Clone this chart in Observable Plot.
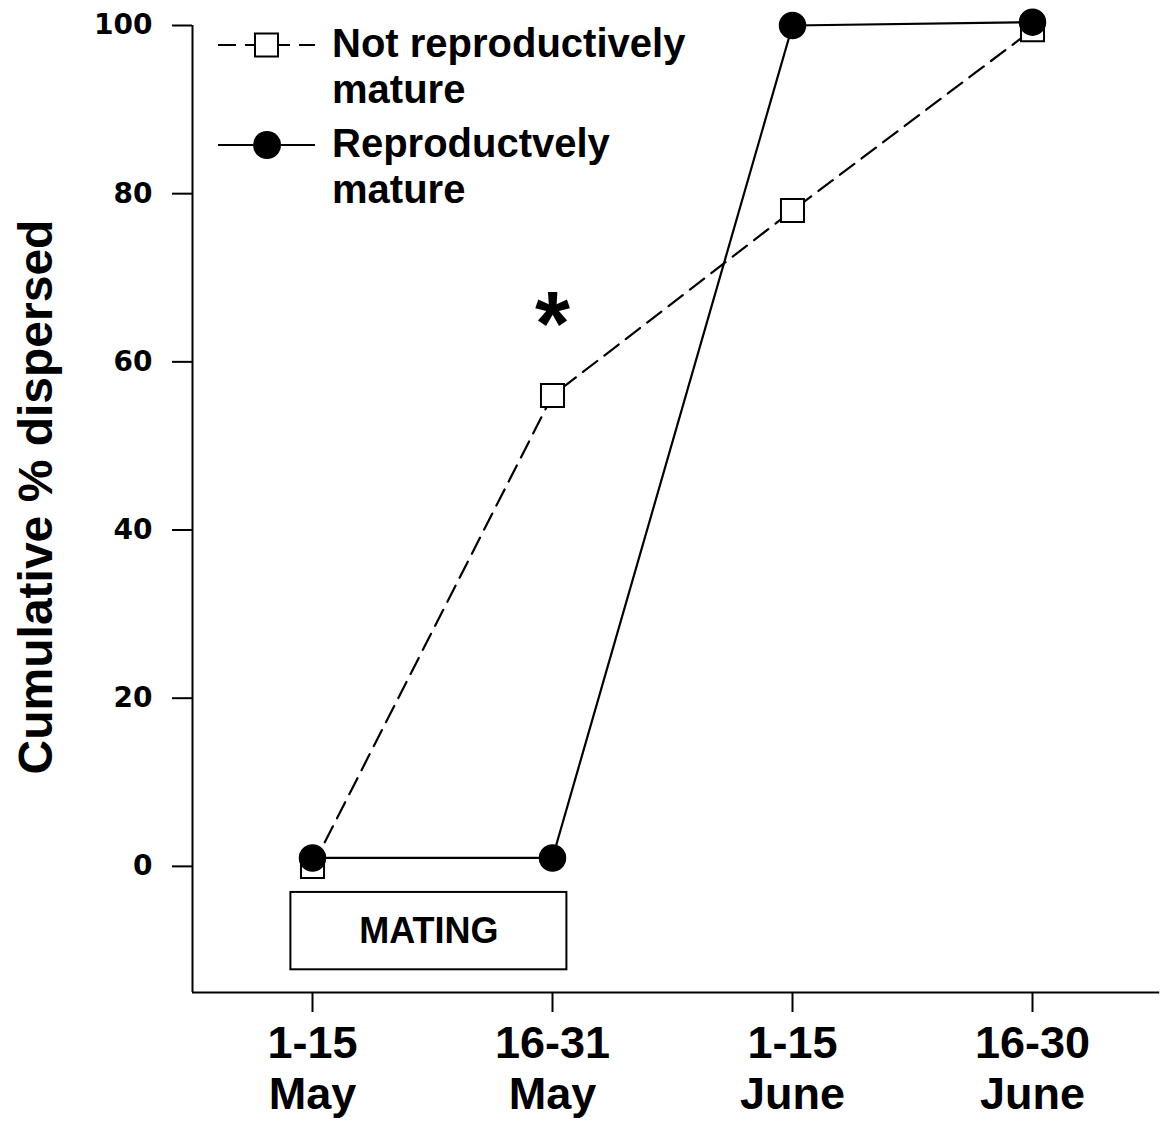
<!DOCTYPE html>
<html><head><meta charset="utf-8">
<script src="https://cdn.jsdelivr.net/npm/d3@7"></script>
<script src="https://cdn.jsdelivr.net/npm/@observablehq/plot@0.6"></script>
<style>body{margin:0;background:#fff}</style>
</head><body><div id="chart"></div>
<script>
// Data
const periods = ["1-15\nMay", "16-31\nMay", "1-15\nJune", "16-30\nJune"];
const notMature = [0, 56, 78, 99.5];
const mature = [1, 1, 100, 100.4];
const seriesNames = ["Not reproductively\nmature", "Reproductvely\nmature"];
const yTicks = [0, 20, 40, 60, 80, 100];
const yTitle = "Cumulative % dispersed";
const matingPeriod = [{x1: -0.09, x2: 1.06, y1: -3.1, y2: -12.3, label: "MATING"}];
const significance = [{i: 1, v: 66.4, label: "*"}];

const nmRows = notMature.map((v, i) => ({i, v}));
const mRows = mature.map((v, i) => ({i, v}));

const plot = Plot.plot({
  width: 1163, height: 1126,
  marginLeft: 192, marginRight: 11, marginTop: 25, marginBottom: 134,
  style: {fontFamily: "'Liberation Sans', Arial, sans-serif", background: "#fff", color: "#000"},
  x: {domain: [-0.5, 3.5], axis: null},
  y: {domain: [-15, 100], axis: null},
  marks: [
    Plot.axisY({ticks: yTicks, tickSize: 20, tickPadding: 20, tickFormat: d => d, fontSize: 28,
      fontWeight: "bold", fontFamily: "DejaVu Sans", label: null, strokeWidth: 2}),
    Plot.axisX({ticks: [0, 1, 2, 3], tickFormat: i => periods[i], tickSize: 20, tickPadding: 10,
      fontSize: 45, fontWeight: "bold", lineHeight: 1.12, label: null, strokeWidth: 2}),
    Plot.ruleX([-0.5], {y1: -15, y2: 100, stroke: "black", strokeWidth: 2}),
    Plot.ruleY([-15], {x1: -0.5, x2: 3.53, stroke: "black", strokeWidth: 2, clip: false}),
    Plot.text([yTitle], {frameAnchor: "left", textAnchor: "middle", rotate: -90, dx: -156, dy: -12, fontSize: 48, fontWeight: "bold", lineAnchor: "middle"}),
    Plot.rect(matingPeriod, {x1: "x1", x2: "x2", y1: "y1", y2: "y2", fill: "white", stroke: "black", strokeWidth: 2}),
    Plot.text(matingPeriod, {x: d => (d.x1 + d.x2) / 2, y: d => (d.y1 + d.y2) / 2, text: "label", fontSize: 36, fontWeight: "bold"}),
    Plot.line(nmRows, {x: "i", y: "v", stroke: "black", strokeWidth: 2.2, strokeDasharray: "18,9"}),
    Plot.dot(nmRows, {x: "i", y: "v", symbol: "square", r: 13, fill: "white", stroke: "black", strokeWidth: 2}),
    Plot.line(mRows, {x: "i", y: "v", stroke: "black", strokeWidth: 2.2}),
    Plot.dot(mRows, {x: "i", y: "v", r: 13, fill: "black", stroke: "black"}),
    Plot.text(significance, {x: "i", y: "v", text: "label", fontSize: 90, fontWeight: "bold", lineAnchor: "middle", dy: 18})
  ]
});
document.getElementById("chart").appendChild(plot);

// Legend
const svg = d3.select(plot);
const lg = svg.append("g").attr("font-family", "'Liberation Sans', Arial, sans-serif")
  .attr("font-weight", "bold").attr("font-size", 40).attr("text-anchor", "start");
const legendStyles = [
  {dash: "18,9", symbol: "square"},
  {dash: null, symbol: "circle"}
];
seriesNames.forEach((name, k) => {
  const g = lg.append("g").attr("transform", `translate(0,${45 + k * 100})`);
  g.append("line").attr("x1", 218).attr("x2", 315).attr("stroke", "black").attr("stroke-width", 2.2)
    .attr("stroke-dasharray", legendStyles[k].dash);
  if (legendStyles[k].symbol === "square") {
    g.append("rect").attr("x", 255).attr("y", -11.5).attr("width", 23).attr("height", 23)
      .attr("fill", "white").attr("stroke", "black").attr("stroke-width", 2);
  } else {
    g.append("circle").attr("cx", 267).attr("r", 14).attr("fill", "black");
  }
  const t = g.append("text").attr("x", 332).attr("y", 12).attr("text-anchor", "start");
  name.split("\n").forEach((line, j) => {
    t.append("tspan").attr("x", 332).attr("dy", j === 0 ? 0 : 46).text(line);
  });
});
</script>
</body></html>
